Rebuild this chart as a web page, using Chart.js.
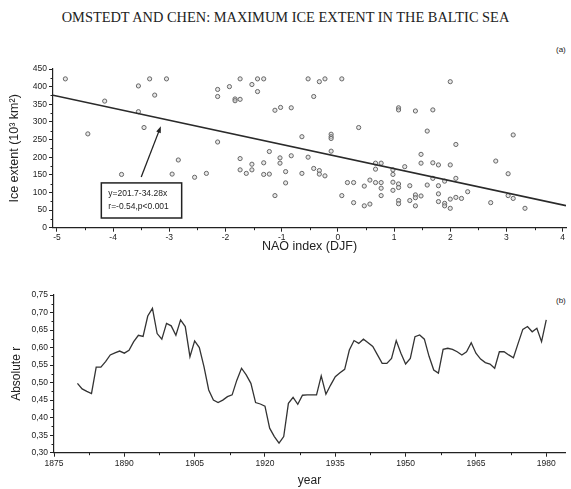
<!DOCTYPE html>
<html>
<head>
<meta charset="utf-8">
<title>Maximum ice extent in the Baltic Sea</title>
<script src="https://cdn.jsdelivr.net/npm/chart.js@4.4.1/dist/chart.umd.min.js"></script>
<style>
  html, body { margin: 0; padding: 0; background: #fff; }
  body { position: relative; width: 571px; height: 489px; overflow: hidden; color: #222;
         font-family: "Liberation Sans", Arial, sans-serif; }
  #pageTitle { position: absolute; left: 0; top: 9px; width: 571px; text-align: center;
               font-family: "Liberation Serif", "Times New Roman", serif; font-size: 14.4px; white-space: nowrap; }
  .tag { position: absolute; font-size: 8px; }
  canvas { position: absolute; left: 0; }
</style>
</head>
<body>
<div id="pageTitle">OMSTEDT AND CHEN: MAXIMUM ICE EXTENT IN THE BALTIC SEA</div>
<div class="tag" style="left:556px; top:45px;">(a)</div>
<div class="tag" style="left:556px; top:296px;">(b)</div>
<canvas id="chartNao" width="571" height="225" style="top:40px;"></canvas>
<canvas id="chartCorr" width="571" height="224" style="top:265px;"></canvas>

<script>
// ================= DATA =================
// (a) winter NAO index vs. maximum ice extent, one point per winter
const naoIndex = [
  -4.85, -4.45, -4.15, -3.85, -3.55, -3.55, -3.45, -3.35, -3.26, -3.05, -2.95, -2.84, -2.55,
  -2.34, -2.14, -2.14, -2.14, -1.93, -1.83, -1.83, -1.74, -1.74, -1.74, -1.74, -1.63, -1.53,
  -1.53, -1.53, -1.43, -1.43, -1.32, -1.32, -1.32, -1.22, -1.22, -1.12, -1.12, -1.02, -1.03,
  -1.03, -0.93, -0.93, -0.83, -0.83, -0.64, -0.64, -0.53, -0.53, -0.43, -0.43, -0.33, -0.33,
  -0.33, -0.23, -0.23, -0.12, -0.12, -0.12, -0.12, 0.07, 0.07, 0.17, 0.28, 0.28, 0.37, 0.47,
  0.47, 0.57, 0.57, 0.67, 0.67, 0.67, 0.77, 0.77, 0.77, 0.77, 0.98, 0.98, 0.98, 0.98, 1.08,
  1.08, 1.08, 1.08, 1.08, 1.08, 1.19, 1.28, 1.28, 1.38, 1.38, 1.38, 1.38, 1.48, 1.48, 1.48,
  1.59, 1.59, 1.69, 1.69, 1.69, 1.79, 1.79, 1.79, 1.79, 1.90, 1.90, 1.90, 2.00, 2.00, 2.00,
  2.00, 2.10, 2.10, 2.10, 2.20, 2.31, 2.72, 2.81, 3.03, 3.03, 3.12, 3.12, 3.33
];
const iceExtent = [
  422, 266, 359, 151, 402, 329, 284, 422, 376, 422, 152, 192, 143,
  154, 392, 372, 243, 400, 365, 360, 422, 364, 196, 164, 154, 406,
  180, 164, 422, 386, 422, 184, 151, 216, 152, 333, 91, 341, 198,
  183, 159, 127, 340, 204, 258, 154, 422, 200, 372, 168, 414, 162,
  152, 422, 147, 265, 258, 253, 217, 422, 91, 128, 128, 71, 284, 118,
  62, 135, 67, 183, 166, 128, 183, 128, 112, 91, 164, 151, 129, 106, 340,
  334, 124, 114, 77, 68, 173, 119, 77, 331, 93, 85, 62, 208, 183, 90,
  274, 121, 334, 184, 140, 178, 119, 96, 74, 132, 69, 62, 414, 178, 81,
  55, 236, 140, 86, 83, 102, 71, 189, 153, 91, 263, 83, 55
];
// regression y = a + b*x
const fitIntercept = 201.7;
const fitSlope = -34.28;
const fitText = ["y=201.7-34.28x", "r=-0.54,p<0.001"];
const naoTicks = [-5, -4, -3, -2, -1, 0, 1, 2, 3, 4];
const iceTicks = [0, 50, 100, 150, 200, 250, 300, 350, 400, 450];

// (b) absolute running correlation, 1880-1980
const firstYear = 1880;
const absR = [
  0.498, 0.482, 0.475, 0.469, 0.544, 0.544, 0.560, 0.579, 0.585, 0.590,
  0.584, 0.592, 0.617, 0.635, 0.632, 0.690, 0.712, 0.640, 0.624, 0.669,
  0.662, 0.635, 0.679, 0.660, 0.574, 0.619, 0.600, 0.545, 0.479, 0.450,
  0.443, 0.450, 0.460, 0.465, 0.507, 0.541, 0.522, 0.498, 0.443, 0.439,
  0.433, 0.370, 0.346, 0.327, 0.346, 0.441, 0.458, 0.438, 0.464, 0.465,
  0.465, 0.465, 0.519, 0.467, 0.493, 0.517, 0.528, 0.538, 0.593, 0.620,
  0.612, 0.624, 0.614, 0.603, 0.579, 0.555, 0.555, 0.569, 0.620, 0.584,
  0.553, 0.569, 0.631, 0.636, 0.624, 0.575, 0.536, 0.527, 0.595, 0.598,
  0.595, 0.588, 0.579, 0.588, 0.614, 0.584, 0.567, 0.557, 0.553, 0.541,
  0.588, 0.588, 0.579, 0.571, 0.612, 0.652, 0.660, 0.645, 0.655, 0.617,
  0.679
];
const yearTicks = [1875, 1890, 1905, 1920, 1935, 1950, 1965, 1980];
const rTicks = [0.30, 0.35, 0.40, 0.45, 0.50, 0.55, 0.60, 0.65, 0.70, 0.75];
const rTickLabels = ["0,30", "0,35", "0,40", "0,45", "0,50", "0,55", "0,60", "0,65", "0,70", "0,75"];

// ================= STYLE =================
const INK = "#222";
const tickFont = { family: "'Liberation Sans', Arial, sans-serif", size: 8.5 };
const titleFont = { family: "'Liberation Sans', Arial, sans-serif", size: 12 };

// short unlabeled ticks between the labeled ones
const minorTicks = {
  id: "minorTicks",
  afterDraw(chart, args, opts) {
    const ctx = chart.ctx;
    ctx.save();
    ctx.strokeStyle = INK;
    ctx.lineWidth = 1;
    ctx.beginPath();
    Object.entries(opts.steps || {}).forEach(([id, step]) => {
      const scale = chart.scales[id];
      const majors = scale.ticks.map(t => t.value);
      const first = Math.ceil(scale.min / step - 1e-6);
      const last = Math.floor(scale.max / step + 1e-6);
      for (let k = first; k <= last; k++) {
        const v = k * step;
        if (majors.some(m => Math.abs(m - v) < step * 0.01)) continue;
        const p = Math.round(scale.getPixelForValue(v)) + 0.5;
        if (scale.isHorizontal()) {
          ctx.moveTo(p, scale.top);
          ctx.lineTo(p, scale.top + opts.length);
        } else {
          ctx.moveTo(scale.right - opts.length, p);
          ctx.lineTo(scale.right, p);
        }
      }
    });
    ctx.stroke();
    ctx.restore();
  }
};

// boxed regression note with an arrow pointing at the fitted line
const fitNote = {
  id: "fitNote",
  afterDatasetsDraw(chart, args, opts) {
    if (!opts.box) return;
    const { ctx, scales: { x, y } } = chart;
    const l = x.getPixelForValue(opts.box[0]);
    const t = y.getPixelForValue(opts.box[1]);
    const r = x.getPixelForValue(opts.box[2]);
    const b = y.getPixelForValue(opts.box[3]);
    ctx.save();
    ctx.fillStyle = "#fff";
    ctx.fillRect(l, t, r - l, b - t);
    ctx.strokeStyle = INK;
    ctx.lineWidth = 1.5;
    ctx.strokeRect(l, t, r - l, b - t);
    ctx.fillStyle = INK;
    ctx.font = "8.5px 'Liberation Sans', Arial, sans-serif";
    ctx.textBaseline = "middle";
    opts.lines.forEach((s, i) => ctx.fillText(s, l + 7, t + 11 + i * 12.5));

    const x0 = x.getPixelForValue(opts.arrow[0]), y0 = y.getPixelForValue(opts.arrow[1]);
    const x1 = x.getPixelForValue(opts.arrow[2]), y1 = y.getPixelForValue(opts.arrow[3]);
    const ang = Math.atan2(y1 - y0, x1 - x0);
    ctx.lineWidth = 1.3;
    ctx.beginPath();
    ctx.moveTo(x0, y0);
    ctx.lineTo(x1 - 4 * Math.cos(ang), y1 - 4 * Math.sin(ang));
    ctx.stroke();
    ctx.beginPath();
    ctx.moveTo(x1, y1);
    ctx.lineTo(x1 - 7 * Math.cos(ang - 0.35), y1 - 7 * Math.sin(ang - 0.35));
    ctx.lineTo(x1 - 7 * Math.cos(ang + 0.35), y1 - 7 * Math.sin(ang + 0.35));
    ctx.closePath();
    ctx.fill();
    ctx.restore();
  }
};

function axisStyle(extra) {
  return Object.assign({
    grid: { drawOnChartArea: false, drawTicks: true, tickLength: 4, tickColor: INK, tickWidth: 1 },
    border: { display: true, color: INK, width: 1.2 },
  }, extra);
}

// ================= (a) SCATTER =================
const naoMin = -5.07, naoMax = 4.06;
new Chart(document.getElementById("chartNao"), {
  type: "scatter",
  data: {
    datasets: [
      {
        data: naoIndex.map((v, i) => ({ x: v, y: iceExtent[i] })),
        pointRadius: 2.1,
        pointBorderWidth: 1,
        pointBorderColor: "#666",
        pointBackgroundColor: "rgba(215,215,215,0.6)",
        order: 2
      },
      {
        type: "line",
        data: [naoMin, naoMax].map(v => ({ x: v, y: fitIntercept + fitSlope * v })),
        borderColor: "#2a2a2a",
        borderWidth: 1.6,
        pointRadius: 0,
        order: 1
      }
    ]
  },
  options: {
    responsive: false,
    animation: false,
    layout: { padding: { top: 29, right: 1, left: 0, bottom: 0 } },
    plugins: {
      legend: { display: false },
      tooltip: { enabled: false },
      minorTicks: { steps: { x: 0.5, y: 25 }, length: 2.5 },
      fitNote: { box: [-4.21, 127, -2.78, 27.5], arrow: [-3.50, 144, -3.15, 288], lines: fitText }
    },
    scales: {
      x: axisStyle({
        type: "linear",
        min: naoMin,
        max: naoMax,
        afterBuildTicks: s => { s.ticks = naoTicks.map(v => ({ value: v })); },
        afterFit: s => { s.height = 37.3; s.paddingLeft = 0; s.paddingRight = 0; },
        ticks: { font: tickFont, color: INK, padding: 1, maxRotation: 0 },
        title: { display: true, text: "NAO index (DJF)", font: { ...titleFont, size: 12.5 }, color: INK, padding: { top: 0, bottom: 11 } }
      }),
      y: axisStyle({
        min: 0,
        max: 450,
        afterBuildTicks: s => { s.ticks = iceTicks.map(v => ({ value: v })); },
        afterFit: s => { s.width = 53; s.paddingTop = 0; s.paddingBottom = 0; },
        ticks: { font: tickFont, color: INK, padding: 2 },
        title: { display: true, text: "Ice extent (10³ km²)", font: { ...titleFont, size: 12.5 }, color: INK, padding: { top: 7, bottom: 0 } }
      })
    }
  },
  plugins: [minorTicks, fitNote]
});

// ================= (b) RUNNING CORRELATION =================
new Chart(document.getElementById("chartCorr"), {
  type: "line",
  data: {
    datasets: [{
      data: absR.map((v, i) => ({ x: firstYear + i, y: v })),
      borderColor: "#333",
      borderWidth: 1.3,
      pointRadius: 0,
      tension: 0
    }]
  },
  options: {
    responsive: false,
    animation: false,
    layout: { padding: { top: 30, right: 6, left: 0, bottom: 0 } },
    plugins: {
      legend: { display: false },
      tooltip: { enabled: false },
      minorTicks: { steps: { x: 7.5, y: 0.025 }, length: 2.5 }
    },
    scales: {
      x: axisStyle({
        type: "linear",
        min: 1875,
        max: 1984,
        afterBuildTicks: s => { s.ticks = yearTicks.map(v => ({ value: v })); },
        afterFit: s => { s.height = 36.3; s.paddingLeft = 0; s.paddingRight = 0; },
        ticks: { font: tickFont, color: INK, padding: 2, maxRotation: 0, callback: v => String(v) },
        title: { display: true, text: "year", font: titleFont, color: INK, padding: { top: 0, bottom: 1 } }
      }),
      y: axisStyle({
        min: 0.30,
        max: 0.75,
        afterBuildTicks: s => { s.ticks = rTicks.map(v => ({ value: v })); },
        afterFit: s => { s.width = 54; s.paddingTop = 0; s.paddingBottom = 0; },
        ticks: { font: tickFont, color: INK, padding: 2, callback: (v, i) => rTickLabels[i] },
        title: { display: true, text: "Absolute r", font: titleFont, color: INK, padding: { top: 9, bottom: 0 } }
      })
    }
  },
  plugins: [minorTicks]
});
</script>
</body>
</html>
